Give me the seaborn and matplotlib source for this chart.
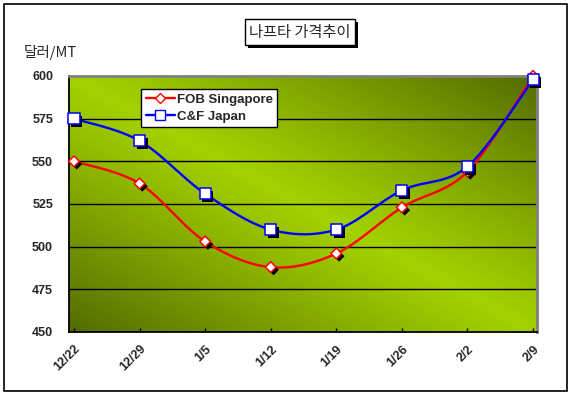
import numpy as np
import pandas as pd
import matplotlib
matplotlib.use("Agg")
import matplotlib.pyplot as plt
import seaborn as sns
from matplotlib import patheffects as pe
from matplotlib.lines import Line2D
from matplotlib.patches import Rectangle

# ---- data ----
dates = ["12/22", "12/29", "1/5", "1/12", "1/19", "1/26", "2/2", "2/9"]
fob_singapore = [550, 537, 503, 488, 496, 523, 544, 600]
cf_japan = [575, 562, 531, 510, 510, 533, 547, 598]
y_ticks = [450, 475, 500, 525, 550, 575, 600]
title_text = "나프타 가격추이"
unit_text = "달러/MT"
series_names = ["FOB Singapore", "C&F Japan"]

sns.set_theme(style="white")
plt.rcParams["font.family"] = ["Liberation Sans", "Noto Sans CJK KR", "DejaVu Sans"]

W, H = 573, 396
fig = plt.figure(figsize=(W / 100, H / 100), dpi=100)
fig.patch.set_facecolor("white")

L, R, T, B = 69, 537, 76, 332
ax = fig.add_axes([L / W, 1 - B / H, (R - L) / W, (B - T) / H])

xpos = np.arange(len(dates))
xlim = (-0.076, len(dates) - 1 + 0.06)
ylim = (y_ticks[0], y_ticks[-1])

# ---- gradient background ----
nx, ny = 300, 200
u = np.linspace(0, 1, nx)[None, :]
v = np.linspace(1, 0, ny)[:, None]
t = np.clip(np.abs(u + v - 1), 0, 1) ** 1.1
bright = np.array([0.64, 0.82, 0.0])
dark = np.array([0.33, 0.42, 0.0])
img = bright[None, None, :] * (1 - t[..., None]) + dark[None, None, :] * t[..., None]
ax.imshow(img, extent=(xlim[0], xlim[1], ylim[0], ylim[1]), aspect="auto",
          zorder=0, interpolation="bilinear")

for yv in y_ticks[1:-1]:
    ax.axhline(yv, color="black", lw=1.0, zorder=1)


def smooth(xs, ys, n=40):
    P = np.column_stack([np.asarray(xs, float), np.asarray(ys, float)])
    P = np.vstack([P[0], P, P[-1]])
    out = []
    for i in range(1, len(P) - 2):
        p0, p1, p2, p3 = P[i - 1], P[i], P[i + 1], P[i + 2]
        c1 = p1 + (p2 - p0) / 6
        c2 = p2 - (p3 - p1) / 6
        tt = np.linspace(0, 1, n, endpoint=(i == len(P) - 3))[:, None]
        b = ((1 - tt) ** 3) * p1 + 3 * ((1 - tt) ** 2) * tt * c1 + 3 * (1 - tt) * tt ** 2 * c2 + tt ** 3 * p2
        out.append(b)
    return np.vstack(out)


series = [
    (fob_singapore, "red", "D", 30),
    (cf_japan, "blue", "s", 64),
]

for vals, col, mk, sz in series:
    curve = smooth(xpos, vals)
    dfc = pd.DataFrame({"x": curve[:, 0], "y": curve[:, 1]})
    sns.lineplot(data=dfc, x="x", y="y", sort=False, estimator=None, color=col,
                 lw=1.7, ax=ax, zorder=3)

for vals, col, mk, sz in series:
    dfp = pd.DataFrame({"x": xpos, "y": vals})
    n0 = len(ax.collections)
    sns.scatterplot(data=dfp, x="x", y="y", marker=mk, s=sz, facecolor="white",
                    edgecolor=col, linewidth=1.1, ax=ax, zorder=4, clip_on=False)
    coll = ax.collections[n0]
    coll.set_path_effects([pe.SimplePatchShadow(offset=(2, -2), shadow_rgbFace="black", alpha=1.0),
                           pe.Normal()])

ax.set_xlim(xlim)
ax.set_ylim(ylim)
ax.set_xticks(xpos)
ax.set_xticklabels(dates, rotation=45, ha="right", va="top", rotation_mode="anchor",
                   fontsize=9, fontweight="bold")
ax.set_yticks(y_ticks)
ax.set_yticklabels([str(v) for v in y_ticks], fontsize=9, fontweight="bold")
ax.tick_params(axis="x", direction="in", length=3, width=1, color="black", pad=8, bottom=True)
ax.tick_params(axis="y", length=0, pad=11.5, left=False)
ax.set_xlabel("")
ax.set_ylabel("")
ax.grid(False)

for side in ["left", "bottom"]:
    ax.spines[side].set_color("black")
    ax.spines[side].set_linewidth(1.3)
for side in ["top", "right"]:
    ax.spines[side].set_color("#808080")
    ax.spines[side].set_linewidth(2.0)

# ---- legend ----
handles = [
    Line2D([0], [0], color="red", lw=1.7, marker="D", markersize=5.5,
           markerfacecolor="white", markeredgecolor="red"),
    Line2D([0], [0], color="blue", lw=1.7, marker="s", markersize=7.5,
           markerfacecolor="white", markeredgecolor="blue"),
]
leg = ax.legend(handles, series_names, loc="upper left", bbox_to_anchor=(0.154, 0.949),
                borderaxespad=0, frameon=True, fancybox=False, shadow=False,
                handlelength=2.2, handletextpad=0.15, labelspacing=0.35,
                borderpad=0.35, prop={"weight": "bold", "size": 9.5})
leg.get_frame().set_edgecolor("black")
leg.get_frame().set_linewidth(1.0)
leg.get_frame().set_facecolor("white")
leg.get_frame().set_alpha(1.0)
leg.set_zorder(6)

# ---- title box ----
ttl = fig.text(300 / W, 1 - 32 / H, title_text, ha="center", va="center", fontsize=11,
               family=["Noto Sans CJK KR", "DejaVu Sans"],
               bbox=dict(boxstyle="square,pad=0.3", fc="white", ec="black", lw=1.0))
ttl.get_bbox_patch().set_path_effects([
    pe.SimplePatchShadow(offset=(2.2, -2.2), shadow_rgbFace="black", alpha=1.0), pe.Normal()])

fig.text(24 / W, 1 - 52 / H, unit_text, ha="left", va="center", fontsize=10.5,
         family=["Noto Sans CJK KR", "DejaVu Sans"])

# ---- outer frame ----
fig.patches.append(Rectangle((4 / W, 1 - 391 / H), 563 / W, 387 / H, transform=fig.transFigure,
                             fill=False, ec="black", lw=1.2, zorder=10))

fig.savefig("out.png", dpi=100, facecolor="white")
